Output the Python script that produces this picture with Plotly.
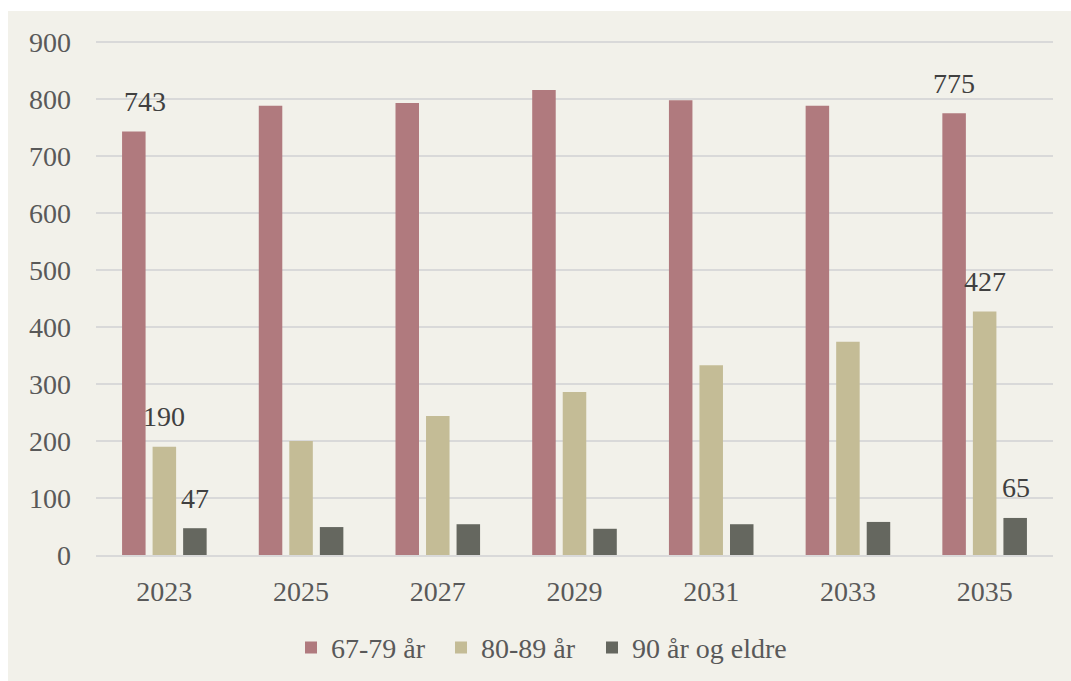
import plotly.graph_objects as go

years = ["2023", "2025", "2027", "2029", "2031", "2033", "2035"]
series_names = ["67-79 år", "80-89 år", "90 år og eldre"]
v_67_79 = [743, 788, 793, 816, 798, 788, 775]
v_80_89 = [190, 200, 244, 286, 333, 374, 427]
v_90 = [47, 49, 54, 46, 54, 58, 65]
colors = ["#b07a7e", "#c4bc96", "#65675f"]
y_ticks = [0, 100, 200, 300, 400, 500, 600, 700, 800, 900]

W, H = 1071, 681
L, R, T, B = 96, 18, 40, 126
pw, ph = W - L - R, H - T - B

font = "Liberation Serif, Times New Roman, serif"
FS = 28
fig = go.Figure()
all_vals = [v_67_79, v_80_89, v_90]
legend_ids = ["legend", "legend2", "legend3"]
legend_px = [291, 441, 592]
for name, vals, c, lid in zip(series_names, all_vals, colors, legend_ids):
    fig.add_trace(go.Bar(name=name, x=years, y=vals, legend=lid,
                         marker=dict(color=c, line=dict(width=0))))

# data labels for first and last year (x given as category index)
offsets = [-31, 0, 31]
for i, vals in enumerate(all_vals):
    for j in (0, len(years) - 1):
        xs = offsets[i] + (12 if (i == 0 and j == 0) else 0)
        fig.add_annotation(x=j, y=vals[j], text=str(vals[j]), showarrow=False,
                           xshift=xs, yshift=30, font=dict(family=font, size=FS, color="#404040"))

fig.add_shape(type="rect", xref="paper", yref="paper",
              x0=(8 - L) / pw, x1=(W + 5 - L) / pw,
              y0=-(B + 5) / ph, y1=(H - B - 11) / ph,
              fillcolor="#f2f1ea", line=dict(width=0), layer="below")

legends = {}
for lid, px in zip(legend_ids, legend_px):
    legends[lid] = dict(orientation="h", x=(px - L) / pw, xanchor="left", y=-0.18, yanchor="middle",
                        font=dict(family=font, size=FS, color="#595959"), itemwidth=30,
                        bgcolor="rgba(0,0,0,0)", borderwidth=0)

fig.update_layout(
    template="none",
    width=W, height=H,
    margin=dict(l=L, r=R, t=T, b=B, autoexpand=False),
    paper_bgcolor="white", plot_bgcolor="rgba(0,0,0,0)",
    barmode="group", bargap=0.33, bargroupgap=0.23,
    font=dict(family=font, size=FS, color="#595959"),
    showlegend=True,
    **legends,
    xaxis=dict(type="category", range=[-0.5, len(years) - 0.5], autorange=False, automargin=False,
               showgrid=False, showline=True, linecolor="#d9d9d9", linewidth=2,
               ticks="", tickfont=dict(size=FS), ticklabelstandoff=10),
    yaxis=dict(range=[0, 903.5], autorange=False, tickvals=y_ticks, showgrid=True, automargin=False,
               gridcolor="#d9d9d9", gridwidth=2,
               zeroline=False, ticks="", tickfont=dict(size=FS), ticklabelstandoff=24,
               showline=False),
)
fig.write_html("out.html")
